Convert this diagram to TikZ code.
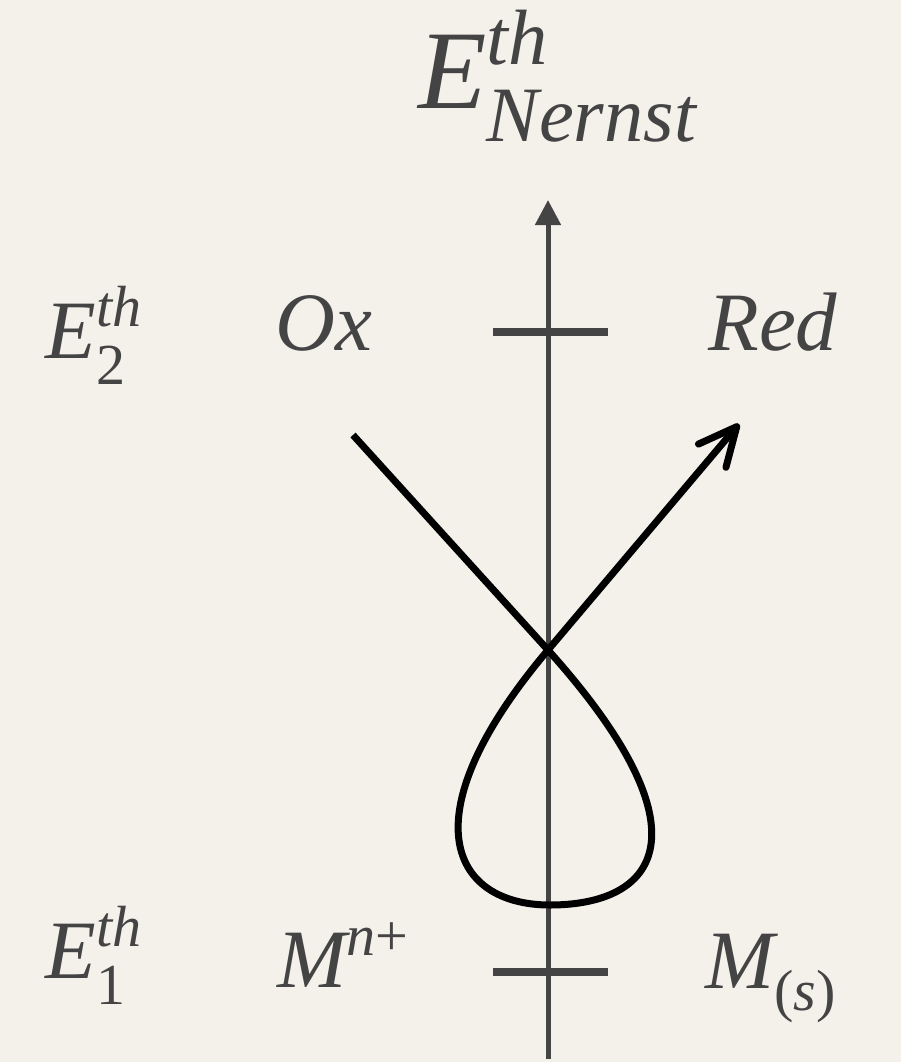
\RequirePackage{fix-cm}
\documentclass[tikz,border=0pt]{standalone}
\usepackage{amsmath}
\usepackage{fontspec}
\setmainfont{Liberation Serif}
\usetikzlibrary{arrows.meta}
\definecolor{paper}{HTML}{F4F1EB}
\definecolor{ink}{HTML}{444444}
\definecolor{wire}{HTML}{000000}
% deeper subscripts, as in the reference
\newcommand\lowsub[1]{\fontdimen16\textfont2=#1\fontdimen17\textfont2=#1\relax}

\begin{document}
\begin{tikzpicture}[
    x=0.5pt, y=-0.5pt,
    every node/.style={inner sep=0pt, text=ink, anchor=base west},
    lab/.style={font=\fontsize{41.5}{46}\selectfont},
    ttl/.style={font=\fontsize{56}{60}\selectfont},
    vaxis/.style={draw=ink, line width=2.5pt, -{Triangle[length=12.5pt, width=12.5pt]}},
    level/.style={draw=ink, line width=3.8pt},
    route/.style={draw=wire, line width=3.5pt, line join=round,
        -{Straight Barb[length=19pt, width=18pt, line cap=round, line join=round]}},
]

% ================================================================ paper
\fill[paper] (0, 0) rectangle (901, 1062);
\useasboundingbox (0, 0) rectangle (901, 1062);

% ================================================================ axis and levels
\coordinate (axbot) at (548, 1059);
\coordinate (axtop) at (548, 200);
\draw[vaxis] (axbot) -- (axtop);

\coordinate (hiL) at (493, 332);
\coordinate (hiR) at (608, 332);
\coordinate (loL) at (493, 972);
\coordinate (loR) at (608, 972);
\draw[level] (hiL) -- (hiR);
\draw[level] (loL) -- (loR);

% ================================================================ labels
\node[ttl] (nernst) at (418, 108)
    {$\lowsub{0.3em}\textit{E}^{\textit{th}}_{\textit{Nernst}}$};

\node[lab] (etwo) at (45, 358) {$\lowsub{0.32em}\textit{E}^{\textit{th}}_{\textup{2}}$};
\node[lab] (ox)   at (275, 350) {\textit{Ox}};
\node[lab] (red)  at (708, 350) {\textit{Red}};

\node[lab] (eone) at (45, 978) {$\lowsub{0.32em}\textit{E}^{\textit{th}}_{\textup{1}}$};
\node[lab] (ion)  at (277, 987) {$\textit{M}^{\textit{n}\textup{+}}$};
\node[lab] (sol)  at (705, 988) {$\lowsub{0.27em}\textit{M}_{\textup{(}\textit{s}\textup{)}}$};

% ================================================================ the loop
\coordinate (start) at (353, 435);
\coordinate (cross) at (548, 650);
\coordinate (bot)   at (550, 905);
\coordinate (tip)   at (739, 424);
\draw[route] (start) -- (cross)
    .. controls (714, 835) and (655, 905) .. (bot)
    .. controls (452, 905) and (406, 818) .. (cross) -- (tip);

\end{tikzpicture}
\end{document}
